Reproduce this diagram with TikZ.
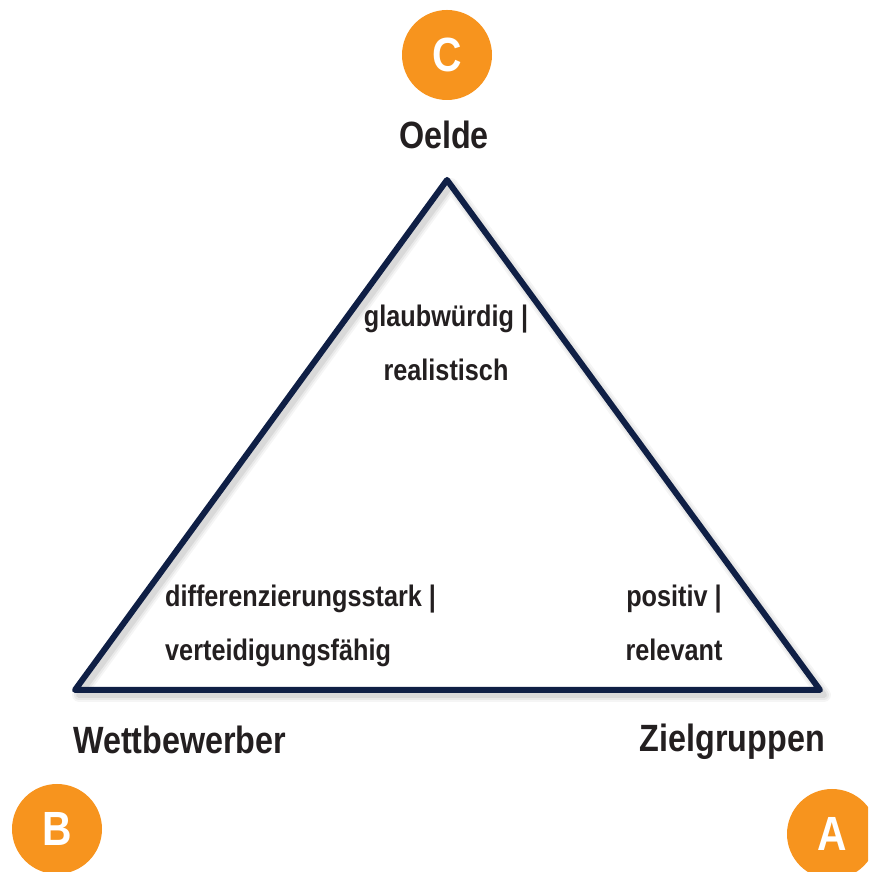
\documentclass[tikz,border=0pt]{standalone}
\usepackage{fontspec}
\setmainfont{Liberation Sans}[FakeStretch=0.85]
\definecolor{navy}{HTML}{0F1F45}
\definecolor{orng}{HTML}{F7941E}
\definecolor{txt}{HTML}{231F20}
\begin{document}
\begin{tikzpicture}[x=1pt,y=1pt,
  lbl/.style={font=\fontsize{38}{40}\selectfont\bfseries, text=txt, inner sep=0},
  inlbl/.style={font=\fontsize{29.7}{30}\selectfont\bfseries, text=txt, inner sep=0},
  badge/.style={circle, fill=orng, minimum size=90, inner sep=0, text=white,
    font=\fontsize{48}{48}\selectfont\bfseries},
  tri/.style={navy, line width=6, line join=round},
  trishadow/.style={black, line join=round}]
\useasboundingbox (0,0) rectangle (868,872);
\clip (0,0) rectangle (868,872);
\coordinate (apex) at (447,692);
\coordinate (bl) at (75,182);
\coordinate (br) at (820,182);
% shadow
\foreach \w/\o in {14/0.04, 10/0.05, 6/0.07}{
  \draw[trishadow, line width=\w, opacity=\o]
    ([shift={(4,-5)}]apex) -- ([shift={(4,-5)}]bl) -- ([shift={(4,-5)}]br) -- cycle;
}
\draw[tri] (apex) -- (bl) -- (br) -- cycle;
% badges
\node[badge] (C) at (447,817) {C};
\node[badge] (B) at (57,43) {B};
\node[badge] (A) at (832,38) {A};
% vertex labels
\node[lbl, anchor=base] (oelde) at (444,723) {Oelde};
\node[lbl, anchor=base west] (wett) at (73,118) {Wettbewerber};
\node[lbl, anchor=base east] (ziel) at (825,120) {Zielgruppen};
% inner labels
\node[inlbl, anchor=base] (glaub) at (446,545) {glaubwürdig |};
\node[inlbl, anchor=base] (real) at (446,491) {realistisch};
\node[inlbl, anchor=base west] (diff) at (165,265) {differenzierungsstark |};
\node[inlbl, anchor=base west] (vert) at (165,211) {verteidigungsfähig};
\node[inlbl, anchor=base] (pos) at (674,265) {positiv |};
\node[inlbl, anchor=base] (rel) at (674,211) {relevant};
\end{tikzpicture}
\end{document}
